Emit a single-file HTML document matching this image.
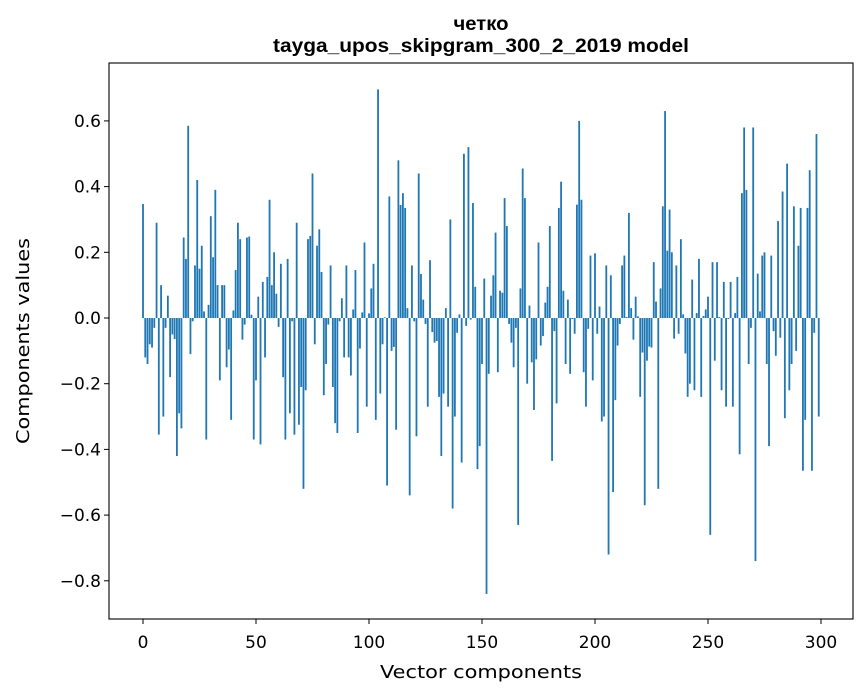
<!DOCTYPE html>
<html><head><meta charset="utf-8"><style>
body{margin:0;background:#fff;}
svg{display:block;font-family:"DejaVu Sans","Liberation Sans",sans-serif;}
</style></head><body>
<svg id="chart" width="867" height="696" viewBox="0 0 867 696">
<rect width="867" height="696" fill="#fff"/>
<text x="481" y="30" text-anchor="middle" font-size="19" font-weight="bold" font-family="Liberation Sans, sans-serif" textLength="55" lengthAdjust="spacingAndGlyphs">четко</text>
<text x="481" y="52" text-anchor="middle" font-size="19" font-weight="bold" font-family="Liberation Sans, sans-serif" textLength="416" lengthAdjust="spacingAndGlyphs">tayga_upos_skipgram_300_2_2019 model</text>
<g id="bars"></g>
<rect x="109" y="63" width="744" height="556" fill="none" stroke="#000" stroke-width="1.1"/>
<g id="xticks"></g>
<g id="yticks"></g>
<text x="481" y="678" text-anchor="middle" font-size="18" textLength="202" lengthAdjust="spacingAndGlyphs">Vector components</text>
<text transform="translate(29,341) rotate(-90)" text-anchor="middle" font-size="18" textLength="206" lengthAdjust="spacingAndGlyphs">Components values</text>
</svg>
<script>
const values = [
0.347,-0.12,-0.14,-0.08,-0.09,-0.03,0.29,-0.355,0.10,-0.30,
-0.03,0.068,-0.18,-0.05,-0.064,-0.42,-0.29,-0.336,0.245,0.18,
0.585,-0.11,-0.01,0.16,0.42,0.15,0.22,0.02,-0.37,0.04,
0.31,0.185,0.39,0.10,-0.19,0.10,0.10,-0.15,-0.096,-0.31,
0.023,0.146,0.29,0.24,-0.066,-0.02,0.245,0.248,0.01,-0.37,
-0.19,0.065,-0.385,0.11,-0.12,0.125,0.36,0.10,0.2,0.074,
-0.027,0.165,-0.18,-0.37,0.18,-0.29,-0.01,-0.355,0.29,-0.325,
-0.21,-0.52,-0.22,0.24,0.25,0.44,-0.08,0.22,0.27,0.14,
-0.235,-0.14,-0.02,0.16,-0.21,-0.32,-0.35,-0.01,0.06,-0.12,
0.16,-0.12,-0.175,0.026,0.146,-0.35,-0.093,0.017,0.23,-0.27,
0.014,0.09,0.165,-0.31,0.696,-0.23,-0.08,0.002,-0.51,0.37,
-0.1,-0.088,-0.34,0.48,0.344,0.38,0.335,0.03,-0.54,0.16,
-0.01,-0.36,0.44,0.134,0.056,-0.018,-0.27,0.176,-0.043,-0.075,
-0.07,-0.24,-0.42,-0.23,0.03,-0.27,0.30,-0.58,-0.30,-0.045,
0.011,-0.44,0.50,-0.024,0.52,-0.005,0.35,0.095,-0.46,-0.39,
-0.14,0.12,-0.84,-0.17,0.068,0.13,0.26,-0.165,0.083,0.077,
0.365,0.28,-0.018,-0.075,-0.15,-0.03,-0.63,0.09,0.455,0.365,
-0.2,0.038,-0.135,-0.28,-0.126,0.23,-0.084,-0.055,0.047,0.095,
0.28,-0.435,-0.04,-0.26,0.335,0.415,0.083,-0.14,0.056,-0.17,
-0.003,-0.048,0.345,0.60,0.36,-0.165,-0.27,-0.033,0.19,-0.19,
0.197,-0.048,0.035,-0.315,-0.30,0.16,-0.72,0.13,-0.53,-0.25,
-0.084,-0.018,0.16,0.19,0.003,0.32,0.03,-0.066,0.065,0.005,
-0.24,-0.105,-0.57,-0.13,-0.087,-0.09,0.17,0.05,-0.52,0.09,
0.34,0.63,0.205,0.33,0.2,-0.063,0.16,-0.048,0.24,0.011,
-0.108,-0.24,-0.2,0.117,-0.22,0.015,0.18,-0.24,0.006,0.026,
0.065,-0.66,0.17,-0.13,0.17,0.003,-0.22,0.11,-0.27,-0.003,
0.11,-0.27,0.015,0.125,-0.415,0.38,0.58,0.39,-0.14,-0.03,
0.58,-0.74,0.135,0.02,0.19,0.2,-0.14,-0.39,0.19,-0.04,
-0.115,0.295,-0.06,0.385,-0.305,0.47,-0.22,-0.14,0.34,-0.1,
0.22,0.335,-0.465,-0.31,0.335,0.45,-0.465,-0.045,0.56,-0.3
];
const xTickValues = [0,50,100,150,200,250,300];
const yTickValues = [-0.8,-0.6,-0.4,-0.2,0.0,0.2,0.4,0.6];
const yTickLabels = ["\u22120.8","\u22120.6","\u22120.4","\u22120.2","0.0","0.2","0.4","0.6"];

const NS = "http://www.w3.org/2000/svg";
function xScale(i){ return 143 + i * 2.26; }
function yScale(v){ return 318 - v * 328.5; }
const barW = 0.8 * 2.26;

const gb = document.getElementById('bars');
values.forEach((v, i) => {
  const r = document.createElementNS(NS, 'rect');
  const y0 = yScale(0), y1 = yScale(v);
  r.setAttribute('x', xScale(i) - barW / 2);
  r.setAttribute('y', Math.min(y0, y1));
  r.setAttribute('width', barW);
  r.setAttribute('height', Math.max(Math.abs(y1 - y0), 0.01));
  r.setAttribute('fill', '#1f77b4');
  
  
  gb.appendChild(r);
});

const gx = document.getElementById('xticks');
xTickValues.forEach(t => {
  const x = xScale(t);
  const l = document.createElementNS(NS, 'line');
  l.setAttribute('x1', x); l.setAttribute('x2', x);
  l.setAttribute('y1', 619); l.setAttribute('y2', 624);
  l.setAttribute('stroke', '#000');
  
  
  gx.appendChild(l);
  const tx = document.createElementNS(NS, 'text');
  tx.setAttribute('x', x); tx.setAttribute('y', 648);
  tx.setAttribute('text-anchor', 'middle');
  tx.setAttribute('font-size', '17');
  tx.textContent = t;
  
  
  gx.appendChild(tx);
});

const gy = document.getElementById('yticks');
yTickValues.forEach((t, k) => {
  const y = yScale(t);
  const l = document.createElementNS(NS, 'line');
  l.setAttribute('x1', 104); l.setAttribute('x2', 109);
  l.setAttribute('y1', y); l.setAttribute('y2', y);
  l.setAttribute('stroke', '#000');
  
  
  gy.appendChild(l);
  const tx = document.createElementNS(NS, 'text');
  tx.setAttribute('x', 101); tx.setAttribute('y', y + 6);
  tx.setAttribute('text-anchor', 'end');
  tx.setAttribute('font-size', '17');
  tx.textContent = yTickLabels[k];
  
  
  gy.appendChild(tx);
});
</script>
</body></html>
